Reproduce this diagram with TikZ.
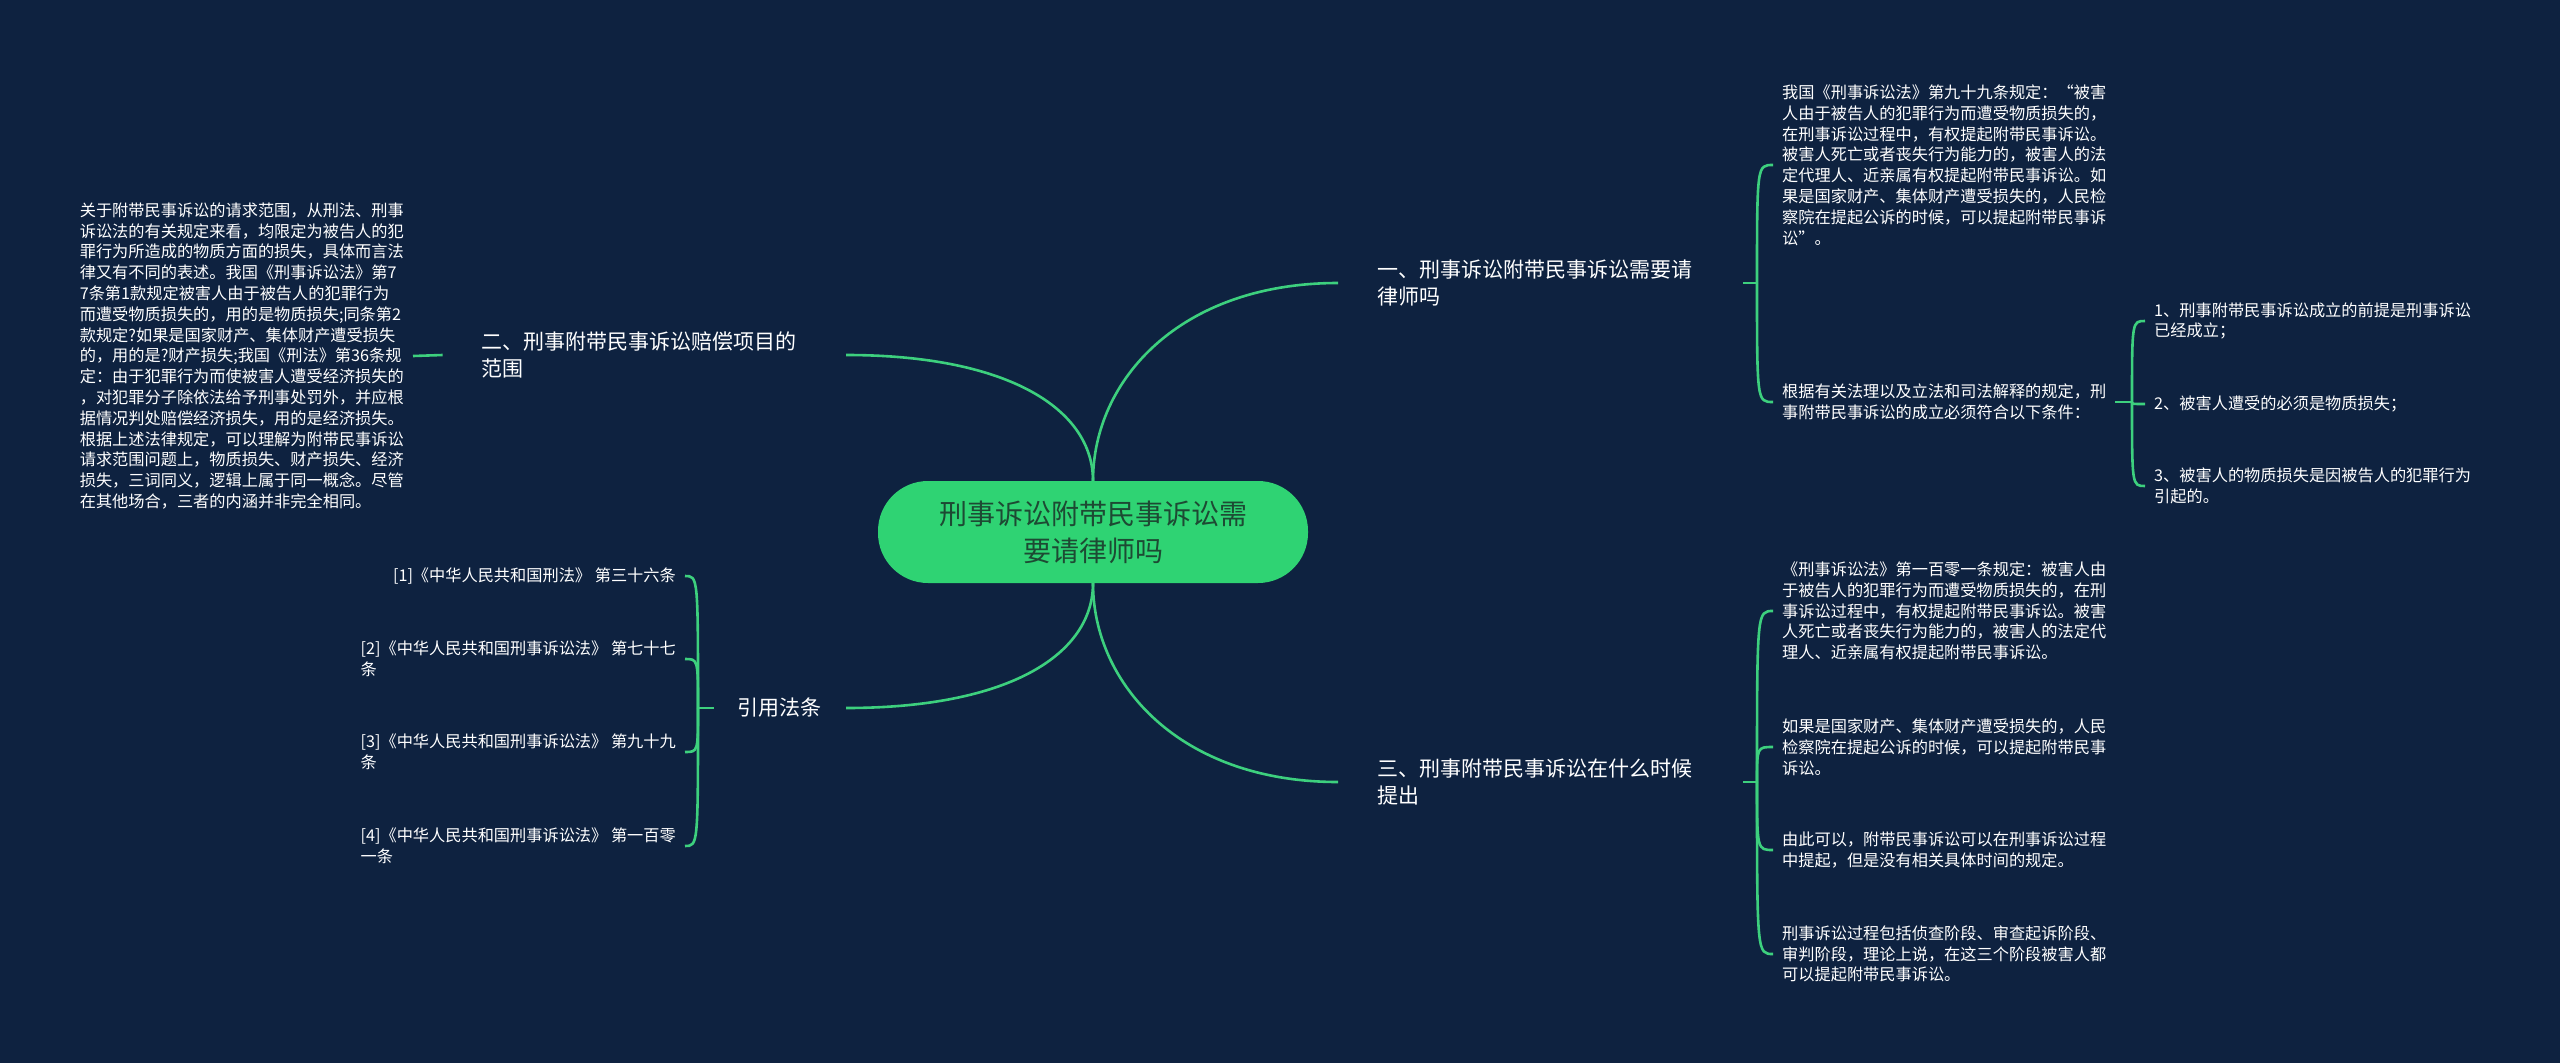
\documentclass[tikz,border=0pt]{standalone}
\usepackage{fontspec}
\setmainfont{Noto Sans CJK SC}

\definecolor{mapbg}{HTML}{0E2240}
\definecolor{mapgreen}{HTML}{2FD373}
\definecolor{maplink}{HTML}{3DD07E}
\definecolor{roottext}{HTML}{1D4A33}

\begin{document}
\begin{tikzpicture}[x=1pt, y=-1pt,
    link/.style={maplink, line width=2.6pt},
    rootnode/.style={fill=mapgreen, draw=none, rounded corners=50pt,
      minimum width=430pt, minimum height=102pt, align=center,
      text=roottext, font=\fontsize{28}{37}\selectfont},
    branch/.style={text=white, align=left, inner xsep=39pt, inner ysep=2pt,
      font=\fontsize{21}{27}\selectfont},
    leaf/.style={text=white, align=left, inner xsep=9pt, inner ysep=2pt,
      font=\fontsize{16.2}{20.8}\selectfont}]

  % ============================================================
  % Canvas
  % ============================================================
  \fill[mapbg] (0,0) rectangle (2560,1063);
  \useasboundingbox (0,0) rectangle (2560,1063);

  % ============================================================
  % Root and main branches
  % ============================================================
  \node[rootnode] (root) at (1093,532) {刑事诉讼附带民事诉讼需\\要请律师吗};

  \node[branch, text width=327pt, anchor=west] (b1) at (1338,283)
    {一、刑事诉讼附带民事诉讼需要请\\律师吗};
  \node[branch, text width=325pt, anchor=east] (b2) at (846,355)
    {二、刑事附带民事诉讼赔偿项目的\\范围};
  \node[branch, inner xsep=24pt, anchor=east] (b3) at (846,708) {引用法条};
  \node[branch, text width=327pt, anchor=west] (b4) at (1338,782)
    {三、刑事附带民事诉讼在什么时候\\提出};

  \draw[link] (root.north) .. controls (1093,380) and (1180,283) .. (b1.west);
  \draw[link] (root.north) .. controls (1093,410) and (1010,355) .. (b2.east);
  \draw[link] (root.south) .. controls (1093,654) and (1010,708) .. (b3.east);
  \draw[link] (root.south) .. controls (1093,684) and (1180,782) .. (b4.west);

  % ============================================================
  % Branch 1 -- right, top
  % ============================================================
  \coordinate (j1) at (1757,283);
  \coordinate (j2) at (2132,402);

  \node[leaf, anchor=west] (l11) at (1773,165)
    {我国《刑事诉讼法》第九十九条规定：“被害\\
     人由于被告人的犯罪行为而遭受物质损失的，\\
     在刑事诉讼过程中，有权提起附带民事诉讼。\\
     被害人死亡或者丧失行为能力的，被害人的法\\
     定代理人、近亲属有权提起附带民事诉讼。如\\
     果是国家财产、集体财产遭受损失的，人民检\\
     察院在提起公诉的时候，可以提起附带民事诉\\
     讼”。};
  \node[leaf, anchor=west] (l12) at (1773,402)
    {根据有关法理以及立法和司法解释的规定，刑\\
     事附带民事诉讼的成立必须符合以下条件：};

  \node[leaf, anchor=west] (l121) at (2145,321)
    {1、刑事附带民事诉讼成立的前提是刑事诉讼\\已经成立；};
  \node[leaf, anchor=west] (l122) at (2145,404)
    {2、被害人遭受的必须是物质损失；};
  \node[leaf, anchor=west] (l123) at (2145,486)
    {3、被害人的物质损失是因被告人的犯罪行为\\引起的。};

  \draw[link] (b1.east) -- (j1);
  \foreach \c in {l11,l12}
    \draw[link] (j1) .. controls (j1 |- \c.west) .. (\c.west);

  \draw[link] (l12.east) -- (j2);
  \foreach \c in {l121,l122,l123}
    \draw[link] (j2) .. controls (j2 |- \c.west) .. (\c.west);

  % ============================================================
  % Branch 3 -- right, bottom
  % ============================================================
  \coordinate (j3) at (1757,782);

  \node[leaf, anchor=west] (l31) at (1773,611)
    {《刑事诉讼法》第一百零一条规定：被害人由\\
     于被告人的犯罪行为而遭受物质损失的，在刑\\
     事诉讼过程中，有权提起附带民事诉讼。被害\\
     人死亡或者丧失行为能力的，被害人的法定代\\
     理人、近亲属有权提起附带民事诉讼。};
  \node[leaf, anchor=west] (l32) at (1773,747)
    {如果是国家财产、集体财产遭受损失的，人民\\
     检察院在提起公诉的时候，可以提起附带民事\\
     诉讼。};
  \node[leaf, anchor=west] (l33) at (1773,850)
    {由此可以，附带民事诉讼可以在刑事诉讼过程\\
     中提起，但是没有相关具体时间的规定。};
  \node[leaf, anchor=west] (l34) at (1773,954)
    {刑事诉讼过程包括侦查阶段、审查起诉阶段、\\
     审判阶段，理论上说，在这三个阶段被害人都\\
     可以提起附带民事诉讼。};

  \draw[link] (b4.east) -- (j3);
  \foreach \c in {l31,l32,l33,l34}
    \draw[link] (j3) .. controls (j3 |- \c.west) .. (\c.west);

  % ============================================================
  % Branch 2 -- left, top
  % ============================================================
  \node[leaf, anchor=east] (l21) at (413,356)
    {关于附带民事诉讼的请求范围，从刑法、刑事\\
     诉讼法的有关规定来看，均限定为被告人的犯\\
     罪行为所造成的物质方面的损失，具体而言法\\
     律又有不同的表述。我国《刑事诉讼法》第7\\
     7条第1款规定被害人由于被告人的犯罪行为\\
     而遭受物质损失的，用的是物质损失;同条第2\\
     款规定?如果是国家财产、集体财产遭受损失\\
     的，用的是?财产损失;我国《刑法》第36条规\\
     定：由于犯罪行为而使被害人遭受经济损失的\\
     ，对犯罪分子除依法给予刑事处罚外，并应根\\
     据情况判处赔偿经济损失，用的是经济损失。\\
     根据上述法律规定，可以理解为附带民事诉讼\\
     请求范围问题上，物质损失、财产损失、经济\\
     损失，三词同义，逻辑上属于同一概念。尽管\\
     在其他场合，三者的内涵并非完全相同。};

  \draw[link] (b2.west) -- (l21.east);

  % ============================================================
  % Cited articles -- left, bottom
  % ============================================================
  \coordinate (j4) at (698,708);

  \node[leaf, anchor=east] (c1) at (685,576)
    {[1]《中华人民共和国刑法》 第三十六条};
  \node[leaf, anchor=east] (c2) at (685,659)
    {[2]《中华人民共和国刑事诉讼法》 第七十七\\条};
  \node[leaf, anchor=east] (c3) at (685,752)
    {[3]《中华人民共和国刑事诉讼法》 第九十九\\条};
  \node[leaf, anchor=east] (c4) at (685,846)
    {[4]《中华人民共和国刑事诉讼法》 第一百零\\一条};

  \draw[link] (b3.west) -- (j4);
  \foreach \c in {c1,c2,c3,c4}
    \draw[link] (j4) .. controls (j4 |- \c.east) .. (\c.east);

\end{tikzpicture}
\end{document}
